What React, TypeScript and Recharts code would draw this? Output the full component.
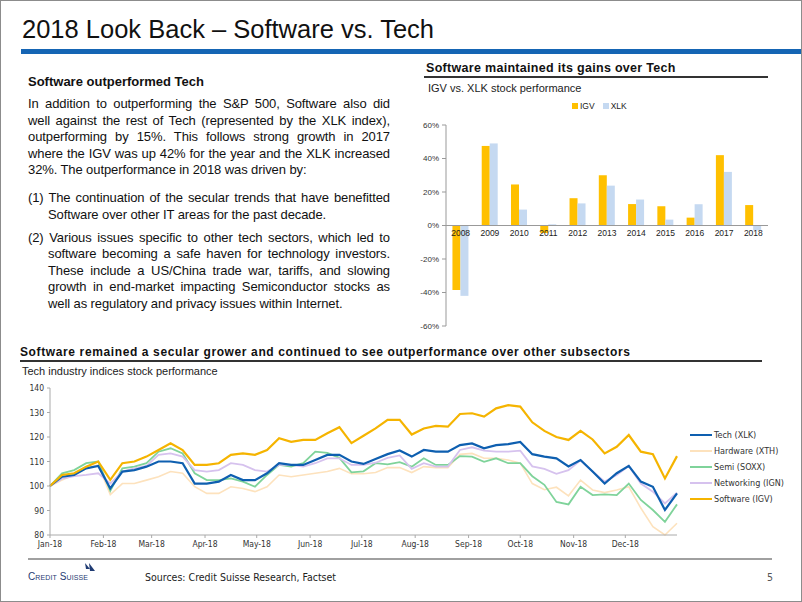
import React from 'react';
import { ComposedChart, LineChart, Line, Bar, XAxis, YAxis, ReferenceLine, LabelList } from 'recharts';

// --- bar chart: IGV vs XLK yearly performance (%) ---
const YEARS = ['2008', '2009', '2010', '2011', '2012', '2013', '2014', '2015', '2016', '2017', '2018'];
const IGV_RETURNS = [-38.5, 47.5, 24.5, -4.5, 16.3, 30, 12.8, 11.5, 4.7, 42, 12.2];
const XLK_RETURNS = [-42, 49, 9.5, 0.7, 13.2, 23.8, 15.5, 3.5, 12.7, 32, -3];
const PCT_TICKS = [-60, -40, -20, 0, 20, 40, 60];

// --- line chart: weekly index levels, day of year 2018 ---
const WEEK_DAYS = [
  0, 7, 14, 21, 28, 35, 42, 49, 56, 63, 70, 77, 84, 91, 98, 105, 112, 119, 126, 133, 140, 147, 154, 161, 168, 175,
  182, 189, 196, 203, 210, 217, 224, 231, 238, 245, 252, 259, 266, 273, 280, 287, 294, 301, 308, 315, 322, 329, 336,
  343, 350, 357, 364,
];
const MONTH_STARTS = [0, 31, 59, 90, 120, 151, 181, 212, 243, 273, 304, 334];
const MONTH_LABELS = ['Jan-18', 'Feb-18', 'Mar-18', 'Apr-18', 'May-18', 'Jun-18', 'Jul-18', 'Aug-18', 'Sep-18', 'Oct-18', 'Nov-18', 'Dec-18'];
const INDEX_TICKS = [80, 90, 100, 110, 120, 130, 140];

const TECH_XLK = [
  100, 103.8, 104.5, 107.2, 108.2, 99, 105.9, 106.5, 107.9, 110, 110, 109.3, 101, 101, 101.8, 104.5, 102.4, 102.4,
  105.2, 109.3, 108.6, 108.6, 110.6, 112.7, 112.7, 110, 109, 111, 113, 114.5, 112, 114.7, 114, 114, 116.7, 117.4,
  115.4, 116.7, 117.1, 118, 113, 112, 111.3, 108, 110.6, 105.9, 101, 105.2, 108.2, 101.8, 99.7, 90.2, 97,
];
const HARDWARE_XTH = [
  100, 102.4, 104.5, 107.2, 108.6, 96.5, 101, 101, 102.4, 103.8, 105.9, 105.2, 99.7, 97, 97, 99.7, 99, 97.7, 99.7,
  104.5, 103.8, 104.5, 105.2, 105.9, 107.2, 105, 105, 105.5, 107.5, 107.5, 105.5, 107.9, 107.5, 107.5, 112.9, 113.3,
  111.3, 111.3, 110.6, 109.3, 101, 98.5, 99.5, 96, 102.4, 98.4, 97.3, 98.4, 99.7, 91, 83.4, 80, 84.8,
];
const SEMI_SOXX = [
  100, 105.2, 106.5, 109.3, 110, 98, 107.2, 107.9, 109.3, 114, 115.4, 113.3, 105.2, 102.4, 102.4, 103.1, 101.8, 99.7,
  104.5, 108.6, 107.9, 109.3, 114, 113.5, 111.5, 105.6, 106, 109.3, 108.8, 109.7, 107.9, 111.3, 108.6, 108.6, 112.2,
  112, 109.9, 111.3, 109.3, 109.3, 104, 100.5, 93.5, 92.5, 99.7, 96.3, 96.6, 96.3, 101, 94.3, 90.2, 85.4, 92.5,
];
const NETWORKING_IGN = [
  100, 103, 104, 104.5, 105.2, 101, 105.9, 107.2, 108.2, 112.7, 113.3, 112, 106.5, 105.9, 106.5, 109.3, 108.6, 106.5,
  105.9, 108.6, 108.6, 107.9, 109.3, 111.3, 111.3, 108.6, 108.6, 109.5, 111.5, 112.5, 107, 109.3, 107.9, 107.9, 114.7,
  115.8, 114.4, 114, 114, 114.4, 108, 107, 105, 106.5, 110.5, 105.9, 101.8, 104.5, 108.2, 101, 97.7, 92.9, 97.3,
];
const SOFTWARE_IGV = [
  100, 104.5, 105.2, 107.9, 110, 102.5, 109.3, 110, 112, 114.7, 117.4, 114.7, 108.6, 108.6, 109.3, 112.7, 113.3, 112.7,
  114.7, 119.5, 118, 118.8, 118.8, 121.5, 124, 117.5, 120.5, 123.5, 127, 127, 121, 123.5, 124.5, 124.2, 129.4, 129.7,
  128.3, 131.7, 133, 132.4, 126, 122.5, 120, 118.8, 122.5, 119, 113.3, 116, 120.8, 114, 113, 103.1, 112.2,
];

const SERIES = [
  { key: 'hardware', name: 'Hardware (XTH)', color: '#fde2bd', width: 1.6 },
  { key: 'semi', name: 'Semi (SOXX)', color: '#7fd39a', width: 1.8 },
  { key: 'networking', name: 'Networking (IGN)', color: '#d6c2ee', width: 1.8 },
  { key: 'tech', name: 'Tech (XLK)', color: '#0e5fb0', width: 2.2 },
  { key: 'software', name: 'Software (IGV)', color: '#f5b400', width: 2.2 },
];
const LEGEND_ORDER = ['tech', 'hardware', 'semi', 'networking', 'software'];

// commentary, line by line as laid out on the slide
const INTRO_LINES = [
  'In addition to outperforming the S&P 500, Software also did',
  'well against the rest of Tech (represented by the XLK index),',
  'outperforming by 15%. This follows strong growth in 2017',
  'where the IGV was up 42% for the year and the XLK increased',
  '32%. The outperformance in 2018 was driven by:',
];
const POINT_1_LINES = [
  '(1) The continuation of the secular trends that have benefitted',
  'Software over other IT areas for the past decade.',
];
const POINT_2_LINES = [
  '(2) Various issues specific to other tech sectors, which led to',
  'software becoming a safe haven for technology investors.',
  'These include a US/China trade war, tariffs, and slowing',
  'growth in end-market impacting Semiconductor stocks as',
  'well as regulatory and privacy issues within Internet.',
];

const barData = YEARS.map((year, i) => ({ year, igv: IGV_RETURNS[i], xlk: XLK_RETURNS[i], base: 0 }));
const lineData = WEEK_DAYS.map((day, i) => ({
  day,
  tech: TECH_XLK[i],
  hardware: HARDWARE_XTH[i],
  semi: SEMI_SOXX[i],
  networking: NETWORKING_IGN[i],
  software: SOFTWARE_IGV[i],
}));

const SANS = '"Liberation Sans", Arial, sans-serif';
const NARROW = '"Liberation Sans Narrow", "Arial Narrow", "DejaVu Sans Condensed", sans-serif';

const abs = (left: number, top: number, extra: React.CSSProperties = {}): React.CSSProperties => ({
  position: 'absolute',
  left,
  top,
  ...extra,
});

// justified block where the line breaks follow the slide
const Lines = ({ lines, hanging, marginTop = 0 }: { lines: string[]; hanging?: boolean; marginTop?: number }) => (
  <div style={{ marginTop }}>
    {lines.map((t, i) => {
      const last = i === lines.length - 1;
      return (
        <div
          key={i}
          style={{
            textAlign: 'justify',
            textAlignLast: last ? 'left' : 'justify',
            paddingLeft: hanging && i > 0 ? 20 : 0,
            whiteSpace: 'normal',
          }}
        >
          {t}
        </div>
      );
    })}
  </div>
);

export default function App() {
  return (
    <div style={{ position: 'absolute', left: 0, top: 0, width: 802, height: 602, background: '#fff', fontFamily: SANS, color: '#111', overflow: 'hidden' }}>
      {/* slide title */}
      <div style={abs(22, 15, { fontSize: 25.5, whiteSpace: 'nowrap', color: '#111' })}>2018 Look Back – Software vs. Tech</div>
      <div style={abs(21, 49, { width: 781, height: 5, background: '#1565b4' })} />

      {/* left text block */}
      <div style={abs(28, 74, { fontSize: 13, fontWeight: 'bold' })}>Software outperformed Tech</div>
      <div style={abs(28, 96, { width: 362, fontSize: 13, letterSpacing: -0.1, lineHeight: '16.6px', color: '#111' })}>
        <Lines lines={INTRO_LINES} />
        <Lines lines={POINT_1_LINES} hanging marginTop={11} />
        <Lines lines={POINT_2_LINES} hanging marginTop={6.5} />
      </div>

      {/* bar chart block */}
      <div style={abs(426, 61, { fontSize: 12.5, fontWeight: 'bold', whiteSpace: 'nowrap', letterSpacing: 0.3 })}>
        Software maintained its gains over Tech
      </div>
      <div style={abs(424, 76, { width: 344, height: 1.5, background: '#333' })} />
      <div style={abs(428, 82, { fontSize: 11, whiteSpace: 'nowrap', color: '#222' })}>IGV vs. XLK stock performance</div>
      <div style={abs(572, 101, { fontSize: 8.5, display: 'flex', alignItems: 'center', gap: 2, color: '#222' })}>
        <span style={{ width: 6, height: 6, background: '#ffc000', display: 'inline-block' }} />
        <span style={{ marginRight: 6 }}>IGV</span>
        <span style={{ width: 6, height: 6, background: '#c5d9f1', display: 'inline-block' }} />
        <span>XLK</span>
      </div>
      <div style={abs(400, 115)}>
        <ComposedChart width={375} height={220} data={barData} margin={{ top: 10, right: 7, bottom: 9, left: 0 }} barGap={0} barCategoryGap="22%">
          <XAxis dataKey="year" type="category" hide />
          <YAxis
            width={46}
            domain={[-60, 60]}
            ticks={PCT_TICKS}
            tickFormatter={(v: number) => `${v}%`}
            tick={{ fontSize: 8, fill: '#333', fontFamily: SANS }}
            tickSize={4}
            tickMargin={3}
            axisLine={{ stroke: '#999' }}
            tickLine={{ stroke: '#999' }}
            interval={0}
          />
          <Bar dataKey="igv" fill="#ffc000" isAnimationActive={false} />
          <Bar dataKey="xlk" fill="#c5d9f1" isAnimationActive={false} />
          <ReferenceLine y={0} stroke="#999" />
          <Line dataKey="base" stroke="transparent" strokeWidth={0} dot={false} activeDot={false} isAnimationActive={false}>
            <LabelList dataKey="year" position="bottom" offset={4} style={{ fontSize: 8.5, fill: '#222', fontFamily: SANS }} />
          </Line>
        </ComposedChart>
      </div>

      {/* line chart block */}
      <div style={abs(20, 345, { fontSize: 12, fontWeight: 'bold', whiteSpace: 'nowrap', letterSpacing: 0.62 })}>
        Software remained a secular grower and continued to see outperformance over other subsectors
      </div>
      <div style={abs(20, 360, { width: 742, height: 1.5, background: '#333' })} />
      <div style={abs(22, 365, { fontSize: 11, whiteSpace: 'nowrap', color: '#222' })}>Tech industry indices stock performance</div>
      <div style={abs(0, 380)}>
        <LineChart width={802} height={175} data={lineData} margin={{ top: 8, right: 125, bottom: 0, left: 0 }}>
          <XAxis
            dataKey="day"
            type="number"
            domain={[0, 364]}
            ticks={MONTH_STARTS}
            tickFormatter={(d: number) => MONTH_LABELS[MONTH_STARTS.indexOf(d)]}
            tick={{ fontSize: 8.5, fill: '#333', fontFamily: NARROW }}
            tickSize={3}
            tickMargin={3}
            height={20}
            interval={0}
            axisLine={{ stroke: '#aaa' }}
            tickLine={{ stroke: '#aaa' }}
          />
          <YAxis
            width={50}
            domain={[80, 140]}
            ticks={INDEX_TICKS}
            tick={{ fontSize: 8.5, fill: '#333', fontFamily: NARROW }}
            tickSize={3}
            tickMargin={3}
            interval={0}
            axisLine={{ stroke: '#aaa' }}
            tickLine={{ stroke: '#aaa' }}
          />
          {SERIES.map((s) => (
            <Line
              key={s.key}
              dataKey={s.key}
              name={s.name}
              type="linear"
              stroke={s.color}
              strokeWidth={s.width}
              dot={false}
              activeDot={false}
              isAnimationActive={false}
            />
          ))}
        </LineChart>
      </div>
      <div style={abs(690, 427, { fontFamily: NARROW, fontSize: 9, color: '#333' })}>
        {LEGEND_ORDER.map((k) => {
          const s = SERIES.find((x) => x.key === k)!;
          return (
            <div key={k} style={{ display: 'flex', alignItems: 'center', height: 16 }}>
              <span style={{ width: 22, height: s.width, background: s.color, display: 'inline-block', marginRight: 2 }} />
              <span>{s.name}</span>
            </div>
          );
        })}
      </div>

      {/* footer */}
      <div style={abs(28, 558, { width: 744, height: 2, background: '#a0a0a0' })} />
      <div style={abs(28, 571, { fontSize: 10, color: '#1f3b73', fontVariant: 'small-caps', letterSpacing: 0.1, whiteSpace: 'nowrap' })}>
        Credit Suisse
      </div>
      <svg style={abs(84, 563)} width={12} height={10} viewBox="0 0 12 10">
        <path d="M1 0 L6 6 L2 6 Z" fill="#1f3b73" />
        <path d="M5 0 L11 8 L6 8 Z" fill="#1f3b73" />
      </svg>
      <div style={abs(145, 571, { fontFamily: NARROW, fontSize: 10.5, color: '#222', whiteSpace: 'nowrap' })}>
        Sources: Credit Suisse Research, Factset
      </div>
      <div style={abs(767, 571, { fontFamily: NARROW, fontSize: 10.5, color: '#555' })}>5</div>

      {/* slide frame */}
      <div style={abs(0, 0, { width: 802, height: 602, border: '1px solid #8c8c8c', boxSizing: 'border-box', pointerEvents: 'none' })} />
    </div>
  );
}
